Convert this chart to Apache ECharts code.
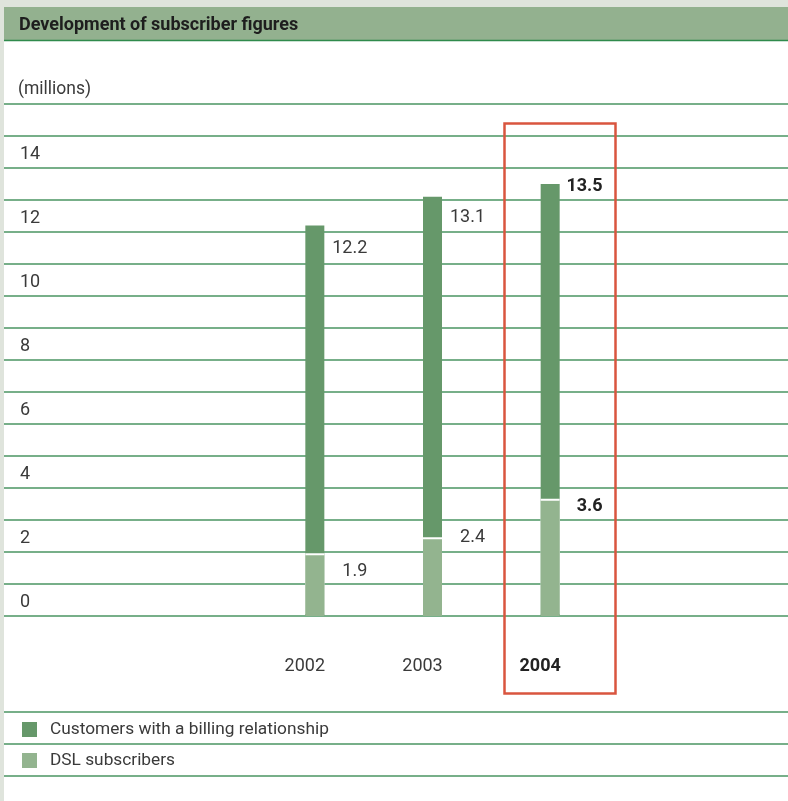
<!DOCTYPE html>
<html>
<head>
<meta charset="utf-8">
<script src="https://cdn.jsdelivr.net/npm/echarts@6/dist/echarts.min.js"></script>
<style>
  html, body { margin: 0; padding: 0; background: #fff; }
  #box { width: 788px; height: 801px; }
</style>
</head>
<body>
<div id="box"></div>
<script>
const years = ['2002', '2003', '2004'];
const billingCustomers = [12.2, 13.1, 13.5];
const dslSubscribers = [1.9, 2.4, 3.6];
const yTicks = [0, 2, 4, 6, 8, 10, 12, 14];
const highlightYear = '2004';

// value label nudges (px below the bar top)
const billingLabelDy = [23, 21, 2];
const dslLabelDy = [16, -2, 6];

const gridColor = '#4a9462';
const darkGreen = '#66986a';
const lightGreen = '#93b48f';
const font = 'Roboto, "Liberation Sans", Arial, sans-serif';
const fs = 18;

const makeData = (vals, dys) => vals.map((v, i) => {
  const bold = years[i] === highlightYear;
  return {
    value: v,
    label: {
      position: [62, dys[i]],
      fontWeight: bold ? 'bold' : 'normal',
      color: bold ? '#222' : '#3a3a3a'
    }
  };
});

const chartDom = document.getElementById('box');
const myChart = echarts.init(chartDom);

const option = {
  backgroundColor: '#fff',
  animation: false,
  textStyle: { fontFamily: font },
  grid: [
    { left: 4, right: 0, top: 104, bottom: 185 },
    { left: 256, right: 179, top: 104, bottom: 185 }
  ],
  xAxis: [
    { gridIndex: 0, type: 'value', min: 0, max: 1, show: false },
    {
      gridIndex: 1,
      type: 'category',
      data: years,
      axisLine: { show: false },
      axisTick: { show: false },
      axisLabel: {
        margin: 41,
        fontSize: fs,
        color: '#3a3a3a',
        padding: [0, 20, 0, 0],
        formatter: v => v === highlightYear ? '{b|' + v + '}' : v,
        rich: { b: { fontWeight: 'bold', fontSize: fs, color: '#222', fontFamily: font } }
      }
    }
  ],
  yAxis: [
    {
      gridIndex: 0,
      type: 'value',
      min: 0,
      max: 16,
      interval: 1,
      axisLine: { show: false },
      axisTick: { show: false },
      splitLine: { show: true, lineStyle: { color: gridColor, width: 1.5 } },
      axisLabel: {
        inside: true,
        margin: 16,
        fontSize: fs,
        color: '#3a3a3a',
        verticalAlign: 'bottom',
        padding: [0, 0, 5, 0],
        formatter: v => yTicks.includes(v) ? String(v) : ''
      }
    },
    { gridIndex: 1, type: 'value', min: 0, max: 16, show: false }
  ],
  legend: {
    orient: 'vertical',
    left: 22,
    top: 721,
    padding: 0,
    itemWidth: 15,
    itemHeight: 15,
    itemGap: 14,
    icon: 'rect',
    textStyle: { fontSize: 17.3, color: '#3a3a3a', padding: [0, 0, 0, 8] },
    data: ['Customers with a billing relationship', 'DSL subscribers']
  },
  series: [
    {
      name: 'Customers with a billing relationship',
      type: 'bar',
      xAxisIndex: 1,
      yAxisIndex: 1,
      barWidth: 19,
      itemStyle: { color: darkGreen },
      label: {
        show: true,
        align: 'right',
        verticalAlign: 'middle',
        fontSize: fs
      },
      data: makeData(billingCustomers, billingLabelDy)
    },
    {
      name: 'DSL subscribers',
      type: 'bar',
      xAxisIndex: 1,
      yAxisIndex: 1,
      barWidth: 19,
      barGap: '-100%',
      itemStyle: {
        color: lightGreen,
        shadowColor: '#fff',
        shadowBlur: 0,
        shadowOffsetY: -2
      },
      label: {
        show: true,
        align: 'right',
        verticalAlign: 'middle',
        fontSize: fs
      },
      data: makeData(dslSubscribers, dslLabelDy)
    }
  ],
  graphic: [
    { type: 'rect', shape: { x: 0, y: 0, width: 788, height: 7 }, style: { fill: '#dfe4dc' }, silent: true },
    { type: 'rect', shape: { x: 0, y: 0, width: 4, height: 801 }, style: { fill: '#dfe4dc' }, silent: true },
    { type: 'rect', shape: { x: 4, y: 7, width: 784, height: 33 }, style: { fill: '#93b18f' }, silent: true },
    { type: 'line', shape: { x1: 4, y1: 40.5, x2: 788, y2: 40.5 }, style: { stroke: '#2f8a4c', lineWidth: 1.5 }, silent: true },
    {
      type: 'text', x: 19, y: 25,
      style: { text: 'Development of subscriber figures', font: 'bold 18px ' + font, fill: '#1e1e1e', verticalAlign: 'middle' }
    },
    {
      type: 'text', x: 18, y: 90,
      style: { text: '(millions)', font: '17.5px ' + font, fill: '#3a3a3a', verticalAlign: 'middle' }
    },
    { type: 'line', shape: { x1: 4, y1: 712, x2: 788, y2: 712 }, style: { stroke: gridColor, lineWidth: 1.5 }, silent: true },
    { type: 'line', shape: { x1: 4, y1: 744, x2: 788, y2: 744 }, style: { stroke: gridColor, lineWidth: 1.5 }, silent: true },
    { type: 'line', shape: { x1: 4, y1: 776, x2: 788, y2: 776 }, style: { stroke: gridColor, lineWidth: 1.5 }, silent: true },
    {
      type: 'rect', z: 100,
      shape: { x: 504.5, y: 123.5, width: 111, height: 570 },
      style: { fill: 'none', stroke: '#d9553f', lineWidth: 2.5 },
      silent: true
    }
  ]
};

option && myChart.setOption(option);
window.addEventListener('resize', function () {
  if (myChart) {
    myChart.resize();
  }
});
</script>
</body>
</html>
